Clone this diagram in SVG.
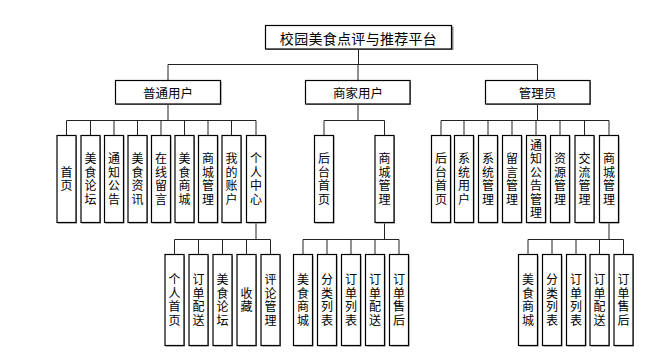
<svg xmlns="http://www.w3.org/2000/svg" width="666" height="360" viewBox="0 0 666 360">
<style>
.bx{fill:#fff;stroke:#000;stroke-width:1.2}
.sh{fill:#8a8a8a}
.h{font-family:"Noto Sans CJK SC","Liberation Sans",sans-serif;fill:#000;text-anchor:middle;dominant-baseline:central}
.t0{font-size:14px;letter-spacing:0.3px}
.t1{font-size:12.5px}
.v{font-size:12px;letter-spacing:1.5px;writing-mode:vertical-rl;text-anchor:middle}
.c{fill:none;stroke:#222;stroke-width:1}
</style>
<rect width="666" height="360" fill="#fff"/>
<g id="connectors">
<path class="c" d="M358.5 49V64.5M168 64.5H537.5M168 64.5V80M358 64.5V80M537.5 64.5V80"/>
<path class="c" d="M168 104V120.5M66.5 120.5H256M66.5 120.5V135.5M90.5 120.5V135.5M114 120.5V135.5M137.5 120.5V135.5M161 120.5V135.5M184.5 120.5V135.5M208 120.5V135.5M231.5 120.5V135.5M256 120.5V135.5"/>
<path class="c" d="M358 104V120.5M324 120.5H384.5M324 120.5V135.5M384.5 120.5V135.5"/>
<path class="c" d="M537.5 104V120.5M441 120.5H609M441 120.5V135.5M464 120.5V135.5M488 120.5V135.5M512 120.5V135.5M536 120.5V135.5M560 120.5V135.5M584.5 120.5V135.5M609 120.5V135.5"/>
<path class="c" d="M256 222.5V239.5M174.5 239.5H270.5M174.5 239.5V254.5M198.5 239.5V254.5M222.5 239.5V254.5M246.5 239.5V254.5M270.5 239.5V254.5"/>
<path class="c" d="M384.5 222.5V239.5M303 239.5H399M303 239.5V254.5M327 239.5V254.5M351 239.5V254.5M375 239.5V254.5M399 239.5V254.5"/>
<path class="c" d="M609 222.5V239.5M528 239.5H623.5M528 239.5V254.5M552 239.5V254.5M576 239.5V254.5M599.5 239.5V254.5M623.5 239.5V254.5"/>
</g>
<g id="root"><rect class="sh" x="266.5" y="26.5" width="187" height="23.5"/><rect class="bx" x="265.5" y="25.5" width="186" height="23.5"/><text class="h t0" x="358.5" y="37.5">校园美食点评与推荐平台</text></g>
<g id="u"><rect class="sh" x="116.5" y="81.5" width="105" height="23.5"/><rect class="bx" x="115.5" y="80.5" width="105" height="23.5"/><text class="h t1" x="168" y="92.5">普通用户</text></g>
<g id="m"><rect class="sh" x="306.5" y="81.5" width="104.5" height="23.5"/><rect class="bx" x="305.5" y="80.5" width="104.5" height="23.5"/><text class="h t1" x="358" y="92.5">商家用户</text></g>
<g id="a"><rect class="sh" x="486.5" y="81.5" width="104.5" height="23.5"/><rect class="bx" x="485.5" y="80.5" width="104.5" height="23.5"/><text class="h t1" x="537.5" y="92.5">管理员</text></g>
<defs>
<g id="L3"><rect class="sh" x="-8.5" y="136.5" width="19" height="87"/><rect class="bx" x="-9.5" y="135.5" width="19" height="87"/></g>
<g id="L4"><rect class="sh" x="-8.5" y="255.5" width="19" height="91"/><rect class="bx" x="-9.5" y="254.5" width="19" height="91"/></g>
</defs>
<g id="u1"><use href="#L3" x="66.5"/><text class="h v" x="66.5" y="179.7">首页</text></g>
<g id="u2"><use href="#L3" x="90.5"/><text class="h v" x="90.5" y="179.7">美食论坛</text></g>
<g id="u3"><use href="#L3" x="114"/><text class="h v" x="114" y="179.7">通知公告</text></g>
<g id="u4"><use href="#L3" x="137.5"/><text class="h v" x="137.5" y="179.7">美食资讯</text></g>
<g id="u5"><use href="#L3" x="161"/><text class="h v" x="161" y="179.7">在线留言</text></g>
<g id="u6"><use href="#L3" x="184.5"/><text class="h v" x="184.5" y="179.7">美食商城</text></g>
<g id="u7"><use href="#L3" x="208"/><text class="h v" x="208" y="179.7">商城管理</text></g>
<g id="u8"><use href="#L3" x="231.5"/><text class="h v" x="231.5" y="179.7">我的账户</text></g>
<g id="u9"><use href="#L3" x="256"/><text class="h v" x="256" y="179.7">个人中心</text></g>
<g id="m1"><use href="#L3" x="324"/><text class="h v" x="324" y="179.7">后台首页</text></g>
<g id="m2"><use href="#L3" x="384.5"/><text class="h v" x="384.5" y="179.7">商城管理</text></g>
<g id="a1"><use href="#L3" x="441"/><text class="h v" x="441" y="179.7">后台首页</text></g>
<g id="a2"><use href="#L3" x="464"/><text class="h v" x="464" y="179.7">系统用户</text></g>
<g id="a3"><use href="#L3" x="488"/><text class="h v" x="488" y="179.7">系统管理</text></g>
<g id="a4"><use href="#L3" x="512"/><text class="h v" x="512" y="179.7">留言管理</text></g>
<g id="a5"><use href="#L3" x="536"/><text class="h v" x="536" y="179.7">通知公告管理</text></g>
<g id="a6"><use href="#L3" x="560"/><text class="h v" x="560" y="179.7">资源管理</text></g>
<g id="a7"><use href="#L3" x="584.5"/><text class="h v" x="584.5" y="179.7">交流管理</text></g>
<g id="a8"><use href="#L3" x="609"/><text class="h v" x="609" y="179.7">商城管理</text></g>
<g id="p1"><use href="#L4" x="174.5"/><text class="h v" x="174.5" y="300.7">个人首页</text></g>
<g id="p2"><use href="#L4" x="198.5"/><text class="h v" x="198.5" y="300.7">订单配送</text></g>
<g id="p3"><use href="#L4" x="222.5"/><text class="h v" x="222.5" y="300.7">美食论坛</text></g>
<g id="p4"><use href="#L4" x="246.5"/><text class="h v" x="246.5" y="300.7">收藏</text></g>
<g id="p5"><use href="#L4" x="270.5"/><text class="h v" x="270.5" y="300.7">评论管理</text></g>
<g id="s1"><use href="#L4" x="303"/><text class="h v" x="303" y="300.7">美食商城</text></g>
<g id="s2"><use href="#L4" x="327"/><text class="h v" x="327" y="300.7">分类列表</text></g>
<g id="s3"><use href="#L4" x="351"/><text class="h v" x="351" y="300.7">订单列表</text></g>
<g id="s4"><use href="#L4" x="375"/><text class="h v" x="375" y="300.7">订单配送</text></g>
<g id="s5"><use href="#L4" x="399"/><text class="h v" x="399" y="300.7">订单售后</text></g>
<g id="g1"><use href="#L4" x="528"/><text class="h v" x="528" y="300.7">美食商城</text></g>
<g id="g2"><use href="#L4" x="552"/><text class="h v" x="552" y="300.7">分类列表</text></g>
<g id="g3"><use href="#L4" x="576"/><text class="h v" x="576" y="300.7">订单列表</text></g>
<g id="g4"><use href="#L4" x="599.5"/><text class="h v" x="599.5" y="300.7">订单配送</text></g>
<g id="g5"><use href="#L4" x="623.5"/><text class="h v" x="623.5" y="300.7">订单售后</text></g>
</svg>
